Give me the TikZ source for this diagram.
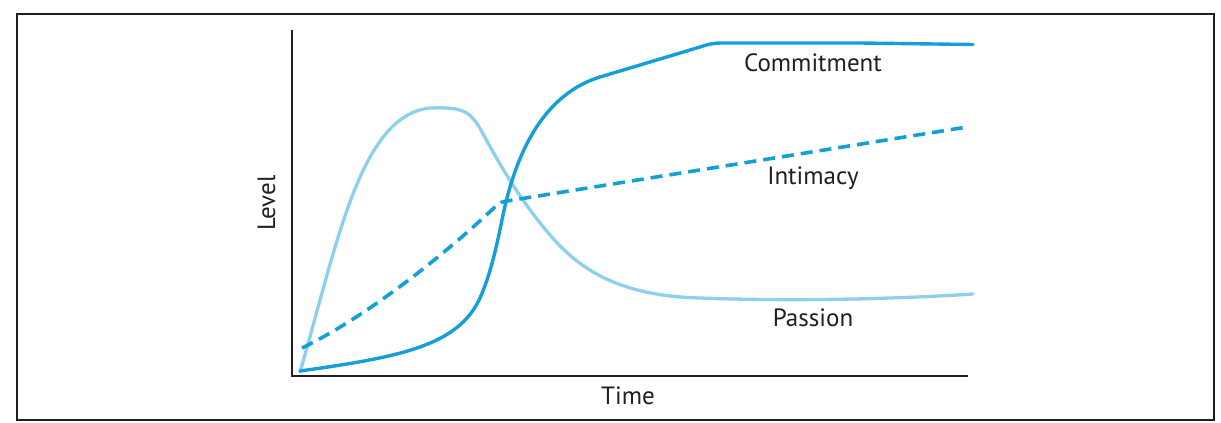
\documentclass[tikz,border=0pt]{standalone}
\usepackage{fontspec}
\setmainfont{PT Sans}
\definecolor{inkc}{HTML}{231F20}
\definecolor{commitc}{HTML}{149FDA}
\definecolor{passionc}{HTML}{8DD0EE}
\tikzset{
  lbl/.style={font=\fontsize{25}{30}\selectfont, text=inkc, inner sep=0pt, anchor=base},
  axisline/.style={draw=inkc, line width=1.7pt},
  curvecommit/.style={draw=commitc, line width=3.4pt, line cap=round, line join=round},
  curveintim/.style={draw=commitc, line width=3.6pt, dash pattern=on 12pt off 7pt, line join=round},
  curvepass/.style={draw=passionc, line width=3.3pt, line cap=round, line join=round}
}
\begin{document}
\begin{tikzpicture}[x=1pt,y=-1pt]
\useasboundingbox (0,0) rectangle (1221,423);
\draw[draw=inkc, line width=2.4pt] (17,14) rectangle (1214,420);
% axes
\coordinate (ytop) at (292,30);
\coordinate (orig) at (292,376);
\coordinate (xend) at (968,376);
\draw[axisline] (ytop) -- (orig) -- (xend);
% passion
\draw[curvepass] (300,372) .. controls (337,245) and (360,115) .. (430,108)
  .. controls (462,107) and (470,110) .. (482,132)
  .. controls (500,165) and (520,200) .. (550,235)
  .. controls (580,270) and (620,296) .. (700,298)
  .. controls (780,301) and (880,300) .. (973,294);
% commitment
\draw[curvecommit] (300,371) .. controls (400,357) and (458,346) .. (480,298)
  .. controls (490,276) and (497,245) .. (502,220)
  .. controls (512,170) and (535,97) .. (600,77)
  -- (700,47) .. controls (708,44.5) and (712,43) .. (722,43)
  -- (860,43) -- (973,44.5);
% intimacy
\draw[curveintim] (302,348) .. controls (370,315) and (450,250) .. (497,205)
  .. controls (500,202.5) and (502,202) .. (507,201) -- (967,127);
% labels
\node[lbl] (commit) at (813,71) {Commitment};
\node[lbl] (intim) at (813,184) {Intimacy};
\node[lbl] (pass) at (813,326) {Passion};
\node[lbl] (time) at (628,404) {Time};
\node[lbl, rotate=90] (level) at (275,203) {Level};
\end{tikzpicture}
\end{document}
